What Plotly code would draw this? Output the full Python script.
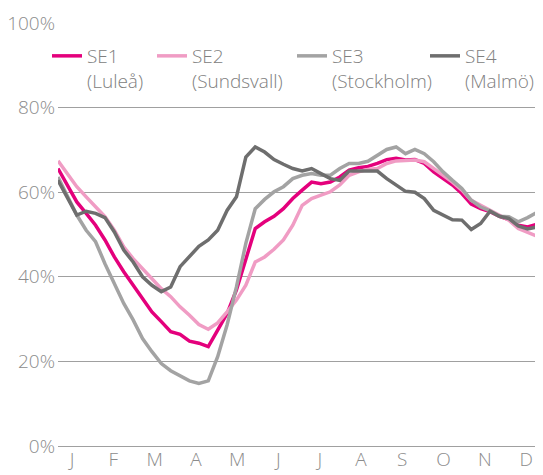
import plotly.graph_objects as go

weeks = list(range(1, 53))
month_labels = ["J", "F", "M", "A", "M", "J", "J", "A", "S", "O", "N", "D"]
y_ticks = [0, 20, 40, 60, 80, 100]
y_tick_labels = ["0%", "20%", "40%", "60%", "80%", "100%"]

se1 = [65.6, 61.7, 57.7, 55.0, 52.2, 48.7, 44.7, 41.2, 38.0, 34.9, 31.7, 29.4, 27.0,
       26.4, 24.8, 24.3, 23.5, 27.4, 31.3, 36.9, 43.9, 51.4, 53.0, 54.3, 56.1, 58.5,
       60.5, 62.4, 62.0, 62.4, 63.6, 65.2, 65.8, 66.1, 66.8, 67.7, 68.0, 67.6, 67.7,
       66.8, 64.8, 63.2, 61.7, 59.7, 57.2, 56.1, 55.4, 54.3, 53.5, 52.2, 51.8, 52.4]
se2 = [67.4, 64.4, 61.3, 58.9, 56.5, 54.2, 51.0, 47.1, 44.3, 42.0, 39.6, 37.2, 35.3,
       32.9, 30.9, 28.7, 27.6, 29.1, 31.7, 34.5, 38.0, 43.5, 44.7, 46.5, 48.7, 52.2,
       56.9, 58.5, 59.3, 60.1, 61.7, 64.0, 64.8, 65.4, 65.6, 66.8, 67.4, 67.4, 67.6,
       67.2, 65.6, 64.0, 62.4, 60.5, 58.1, 56.9, 55.7, 54.6, 53.4, 51.4, 50.4, 49.6]
se3 = [63.6, 58.9, 54.6, 51.0, 48.3, 43.1, 38.4, 33.7, 29.8, 25.4, 22.3, 19.5, 17.8,
       16.6, 15.4, 14.8, 15.4, 21.1, 28.6, 37.6, 47.9, 56.1, 58.3, 60.1, 61.3, 63.2,
       64.0, 64.4, 64.0, 64.0, 65.6, 66.8, 66.8, 67.3, 68.7, 70.1, 70.7, 69.1, 70.1,
       69.1, 67.2, 64.8, 62.8, 60.9, 58.1, 56.5, 55.6, 54.3, 54.2, 53.0, 54.0, 55.2]
se4 = [62.8, 58.5, 54.6, 55.5, 55.0, 54.0, 50.6, 46.3, 43.5, 40.0, 38.0, 36.5, 37.6,
       42.4, 44.7, 47.2, 48.7, 51.0, 55.7, 58.9, 68.3, 70.7, 69.5, 67.7, 66.6, 65.6,
       65.0, 65.6, 64.4, 63.2, 62.8, 65.0, 65.0, 65.0, 65.0, 63.2, 61.7, 60.2, 60.0,
       58.5, 55.7, 54.6, 53.5, 53.4, 51.2, 52.6, 55.5, 54.3, 53.8, 52.0, 51.3, 51.8]

names = ["SE1<br>(Luleå)", "SE2<br>(Sundsvall)", "SE3<br>(Stockholm)", "SE4<br>(Malmö)"]
colors = ["#e4007c", "#f09cc4", "#a3a3a3", "#6e6e6e"]
series = [se1, se2, se3, se4]
legend_ids = ["legend", "legend2", "legend3", "legend4"]

# the page body adds an 8px margin, so the figure is drawn 8px in from the corner
W, H = 535, 467
legend_x_px = [39, 144, 284, 417]
legend_top_px = 29

fig = go.Figure()
for name, col, vals, lid in zip(names, colors, series, legend_ids):
    fig.add_trace(go.Scatter(x=weeks, y=vals, mode="lines", name=name,
                             legend=lid, line=dict(color=col, width=3.5)))

tick_pos = [2.5 + i * (50.84 - 2.5) / 11 for i in range(12)]

font_family = "Open Sans"
grey = "#8c8c8c"

legend_common = dict(orientation="h", xref="container", yref="container",
                     xanchor="left", yanchor="top", valign="top",
                     font=dict(size=19, color="#808080"),
                     bgcolor="rgba(0,0,0,0)")

layout_legends = {}
for lid, lx in zip(legend_ids, legend_x_px):
    layout_legends[lid] = dict(legend_common, x=lx / W, y=1 - legend_top_px / H)

fig.update_layout(
    width=W, height=H,
    margin=dict(l=50, r=6, t=15, b=29, autoexpand=False),
    paper_bgcolor="white", plot_bgcolor="white",
    font=dict(family=font_family, size=19, color=grey, weight=300),
    showlegend=True,
    xaxis=dict(range=[1, 52], showgrid=False, zeroline=False, showline=False,
               tickmode="array", tickvals=tick_pos, ticktext=month_labels,
               ticks="", tickfont=dict(size=19, color=grey)),
    yaxis=dict(range=[0, 100], tickmode="array", tickvals=y_ticks,
               ticktext=y_tick_labels, showgrid=True, gridcolor="#a0a0a0",
               gridwidth=1, zeroline=True, zerolinecolor="#a0a0a0",
               zerolinewidth=1, showline=False, ticks="", ticklabelstandoff=2,
               tickfont=dict(size=19, color=grey)),
    **layout_legends,
)

fig.write_html("out.html")
